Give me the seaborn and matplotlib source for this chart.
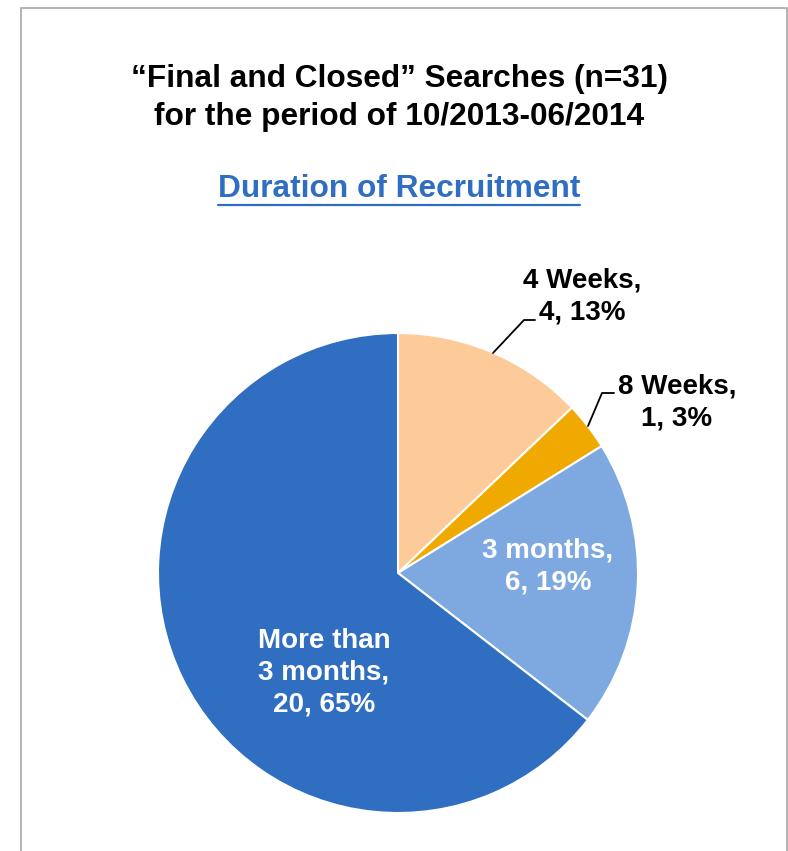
import matplotlib
matplotlib.use("Agg")
import matplotlib.pyplot as plt
import seaborn as sns
from matplotlib.patches import Rectangle
from matplotlib.lines import Line2D

sns.set_theme(style="white")
plt.rcParams['font.family'] = ['Liberation Sans', 'DejaVu Sans']

categories = ["4 Weeks", "8 Weeks", "3 months", "More than\n3 months"]
counts = [4, 1, 6, 20]
percents = ["13%", "3%", "19%", "65%"]
colors = ["#FDCB9A", "#F0A900", "#7EA9E0", "#2F6EC1"]

W, H = 788, 851
fig = plt.figure(figsize=(W / 100, H / 100), dpi=100)

# border
fig.patches.append(Rectangle((20.5 / W, -0.05), (786.5 - 20.5) / W, 1.05 - 8 / H,
                             transform=fig.transFigure, fill=False,
                             edgecolor="#A6A6A6", linewidth=1.2))

# pie axes
cx, cy, r = 398, 573, 240
ax = fig.add_axes([(cx - r) / W, (H - cy - r) / H, 2 * r / W, 2 * r / H])
wedges, _ = ax.pie(counts, colors=colors, startangle=90, counterclock=False,
                   wedgeprops=dict(edgecolor="white", linewidth=1.5))
ax.set_xlim(-1, 1)
ax.set_ylim(-1, 1)
ax.set_aspect("equal")
ax.axis("off")

def d(px, py):
    return ((px - cx) / r, (cy - py) / r)

labels = [f"{c},\n{n}, {p}" for c, n, p in zip(categories, counts, percents)]
fs = 20
ls = 1.3

# 4 Weeks
ax.text(*d(582, 296), labels[0], ha="center", va="center", fontsize=fs,
        fontweight="bold", color="black", linespacing=ls)
ax.add_line(Line2D(*zip(d(493, 353), d(524, 320), d(535, 320)), color="black", lw=1.3,
                   clip_on=False))
# 8 Weeks
ax.text(*d(677, 402), labels[1], ha="center", va="center", fontsize=fs,
        fontweight="bold", color="black", linespacing=ls)
ax.add_line(Line2D(*zip(d(588, 426), d(602, 393), d(614, 393)), color="black", lw=1.3,
                   clip_on=False))
# 3 months
ax.text(*d(548, 567), labels[2], ha="center", va="center", fontsize=fs,
        fontweight="bold", color="white", linespacing=ls)
# More than 3 months
ax.text(*d(324, 673), labels[3], ha="center", va="center", fontsize=fs,
        fontweight="bold", color="white", linespacing=ls)

# titles
fig.text(399 / W, 1 - 98 / H, "\u201cFinal and Closed\u201d Searches (n=31)\nfor the period of 10/2013-06/2014",
         ha="center", va="center", fontsize=22.8, fontweight="bold", color="black",
         linespacing=1.32)
sub = fig.text(399 / W, 1 - 189 / H, "Duration of Recruitment", ha="center", va="center",
               fontsize=22.8, fontweight="bold", color="#2F6EC1")
fig.canvas.draw()
bb = sub.get_window_extent(renderer=fig.canvas.get_renderer())
uy = bb.y0 - 1
fig.lines.append(Line2D([bb.x0 / W, bb.x1 / W], [uy / H, uy / H], transform=fig.transFigure,
                        color="#2F6EC1", lw=1.6))

fig.savefig("out.png", dpi=100)
